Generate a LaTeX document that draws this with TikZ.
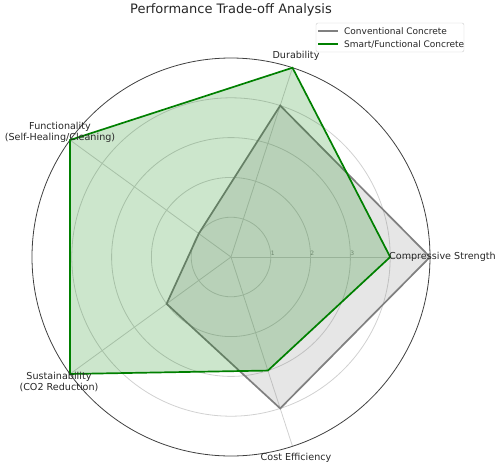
\documentclass[tikz,border=0pt]{standalone}
\usepackage{fontspec}
\setmainfont{DejaVu Sans}
\begin{document}
\begin{tikzpicture}[x=1pt,y=1pt,
  grid/.style={draw=black!18,line width=0.8pt},
  spine/.style={draw=black!75,line width=0.8pt},
  conv/.style={draw=black!50,line width=1.7pt,fill=black!50,fill opacity=0.2,line join=miter},
  smart/.style={draw=green!50!black,line width=1.7pt,fill=green!50!black,fill opacity=0.2,line join=miter},
  cat/.style={font=\fontsize{9.6}{11}\selectfont,text=black!85,inner sep=0pt,align=center},
  rlab/.style={font=\fontsize{6}{7}\selectfont,text=black!45,inner sep=0pt},
  legtext/.style={font=\fontsize{9}{10}\selectfont,text=black!85,anchor=west,inner sep=0pt}]
\useasboundingbox (-231,-210) rectangle (267,257);
\def\u{39.8}
% grid
\foreach \r in {1,2,3,4} \draw[grid] (0,0) circle ({\r*\u});
\foreach \a in {0,72,144,216,288} \draw[grid] (0,0) -- (\a:{5*\u});
\draw[spine] (0,0) circle ({5*\u});
% ring labels
\node[rlab] (r1) at (41.7,3.7) {1};
\node[rlab] (r2) at (81.3,3.7) {2};
\node[rlab] (r3) at (121.3,3.7) {3};
% data points
\coordinate (a1) at (0:{5*\u});
\coordinate (a2) at (72:{4*\u});
\coordinate (a3) at (144:{1*\u});
\coordinate (a4) at (216:{2*\u});
\coordinate (a5) at (288:{4*\u});
\coordinate (b1) at (0:{4*\u});
\coordinate (b2) at (72:{5*\u});
\coordinate (b3) at (144:{5*\u});
\coordinate (b4) at (216:{5*\u});
\coordinate (b5) at (288:{3*\u});
\draw[conv] (a1) -- (a2) -- (a3) -- (a4) -- (a5) -- cycle;
\draw[smart] (b1) -- (b2) -- (b3) -- (b4) -- (b5) -- cycle;
% category labels
\node[cat,anchor=west] (l1) at (158,0) {Compressive Strength};
\node[cat] (l2) at (65,201) {Durability};
\node[cat] (l3) at (-171,125) {Functionality\\(Self-Healing/Cleaning)};
\node[cat] (l4) at (-172,-124.5) {Sustainability\\(CO2 Reduction)};
\node[cat] (l5) at (65,-201) {Cost Efficiency};
% title
\node[font=\fontsize{13}{15}\selectfont,text=black!85,inner sep=0pt] (title) at (0,247.5) {Performance Trade-off Analysis};
% legend
\node[draw=black!20,fill=white,fill opacity=0.8,rounded corners=2pt,minimum width=148pt,minimum height=29pt,inner sep=0pt] (leg) at (159,219.5) {};
\coordinate (g1s) at (87,226);
\coordinate (g1e) at (107,226);
\coordinate (g2s) at (87,213);
\coordinate (g2e) at (107,213);
\draw[black!50,line width=1.6pt] (g1s) -- (g1e);
\draw[green!50!black,line width=1.6pt] (g2s) -- (g2e);
\node[legtext] (t1) at (113,226) {Conventional Concrete};
\node[legtext] (t2) at (113,213) {Smart/Functional Concrete};
\end{tikzpicture}
\end{document}
